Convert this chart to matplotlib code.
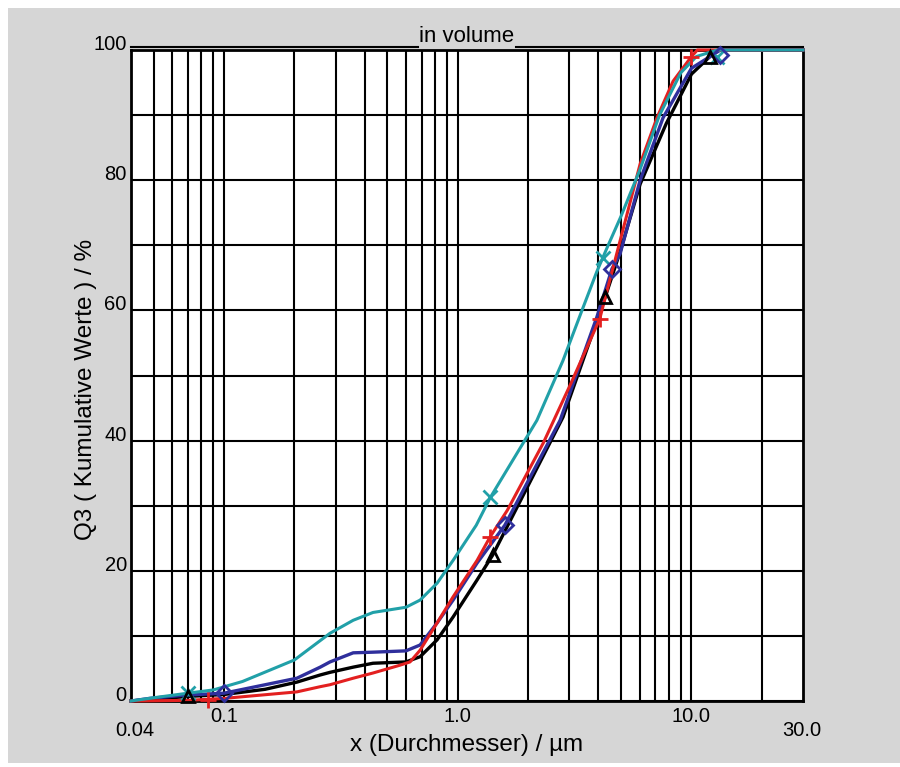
import matplotlib
matplotlib.use('Agg')
import numpy as np
from matplotlib import pyplot as plt
from matplotlib.patches import Rectangle
from matplotlib.ticker import FixedLocator, NullFormatter

plt.rcParams['font.family'] = ['Liberation Sans', 'DejaVu Sans']

# cumulative volume curves Q3
cyan_x = [0.04, 0.05, 0.07, 0.09, 0.12, 0.2, 0.284, 0.357, 0.434, 0.6, 0.69, 0.816,
          0.955, 1.2, 1.38, 2.18, 2.82, 3.4, 3.94, 4.4, 5.0, 6.0, 7.3, 9.0, 10.5, 12.9, 30.0]
cyan_y = [0.0, 0.5, 1.2, 1.7, 3.0, 6.3, 10.4, 12.4, 13.6, 14.4, 15.5, 18.1,
          21.6, 27.0, 31.3, 43.1, 52.3, 60.0, 66.0, 70.0, 74.5, 81.5, 90.0, 96.5, 99.0, 100.0, 100.0]

blue_x = [0.04, 0.048, 0.068, 0.1, 0.205, 0.258, 0.284, 0.357, 0.434, 0.6, 0.69, 0.816,
          0.955, 1.21, 1.59, 2.74, 3.94, 4.57, 4.95, 6.03, 7.56, 10.0, 13.3, 30.0]
blue_y = [0.0, 0.4, 0.9, 1.2, 3.5, 5.2, 6.0, 7.4, 7.5, 7.7, 8.6, 12.0,
          15.5, 21.2, 27.0, 43.1, 59.0, 66.4, 68.7, 80.0, 89.6, 97.2, 100.0, 100.0]

black_x = [0.04, 0.07, 0.1, 0.15, 0.205, 0.258, 0.284, 0.357, 0.434, 0.6, 0.69, 0.816,
           0.955, 1.21, 1.41, 2.82, 4.27, 4.95, 6.03, 7.8, 10.0, 12.0, 13.0, 30.0]
black_y = [0.0, 0.7, 1.0, 1.8, 2.9, 4.0, 4.4, 5.2, 5.8, 6.0, 6.8, 9.4,
           12.9, 18.6, 22.4, 43.6, 62.0, 69.0, 79.4, 88.7, 96.3, 99.0, 100.0, 100.0]

red_x = [0.04, 0.07, 0.1, 0.205, 0.258, 0.284, 0.357, 0.434, 0.566, 0.625, 0.69, 0.816,
         0.955, 1.21, 1.375, 1.63, 2.32, 3.05, 4.05, 6.03, 7.12, 8.34, 10.0, 10.6, 30.0]
red_y = [0.0, 0.1, 0.4, 1.4, 2.2, 2.5, 3.5, 4.3, 5.5, 6.0, 7.8, 12.0,
         16.0, 21.6, 25.2, 29.3, 39.6, 48.8, 58.7, 82.5, 89.6, 95.2, 99.0, 100.0, 100.0]

# symbol positions on each curve
cyan_mx, cyan_my = [0.07, 1.38, 4.17, 12.9], [1.2, 31.3, 68.0, 99.0]
blue_mx, blue_my = [0.1, 1.59, 4.57, 13.3], [1.2, 27.0, 66.4, 99.3]
black_mx, black_my = [0.07, 1.41, 4.27, 12.0], [0.8, 22.4, 62.0, 99.0]
red_mx, red_my = [0.085, 1.375, 4.05, 10.0], [0.2, 25.2, 58.7, 99.0]

major_x = [0.1, 1.0, 10.0]
major_x_labels = ['0.1', '1.0', '10.0']
minor_x = [0.05, 0.06, 0.07, 0.08, 0.09, 0.2, 0.3, 0.4, 0.5, 0.6, 0.7, 0.8, 0.9,
           2, 3, 4, 5, 6, 7, 8, 9, 20]
y_major = [0, 20, 40, 60, 80, 100]
y_minor = [10, 30, 50, 70, 90]

W, H = 900, 767
fig = plt.figure(figsize=(W / 100, H / 100), dpi=100)
fig.patch.set_facecolor('white')
fig.patches.append(Rectangle((8 / W, 4 / H), (W - 8) / W, (H - 12) / H,
                             transform=fig.transFigure, facecolor='#d6d6d6',
                             edgecolor='none', zorder=-10))
ax = fig.add_axes([131 / W, 1 - 701 / H, 672 / W, 651 / H])
ax.set_facecolor('white')
ax.set_xscale('log')
ax.set_xlim(0.04, 30)
ax.set_ylim(0, 100)

ax.xaxis.set_major_locator(FixedLocator(major_x))
ax.xaxis.set_minor_locator(FixedLocator(minor_x))
ax.xaxis.set_minor_formatter(NullFormatter())
ax.set_xticklabels(major_x_labels)
ax.set_yticks(y_major)
ax.set_yticks(y_minor, minor=True)
ax.tick_params(which='both', length=0)
ax.tick_params(axis='x', labelsize=14.5, pad=4)
ax.tick_params(axis='y', labelsize=14.5, pad=3)
for lab in ax.get_yticklabels():
    lab.set_verticalalignment('baseline')

ax.grid(which='both', color='black', linewidth=1.5)
ax.set_axisbelow(True)
for sp in ax.spines.values():
    sp.set_linewidth(2)
    sp.set_color('black')

# end labels of the x axis sit one row lower
tr = ax.get_xaxis_transform()
ax.text(0.0415, -0.045, '0.04', transform=tr, ha='center', va='center', fontsize=14.5)
ax.text(29.5, -0.046, '30.0', transform=tr, ha='center', va='center', fontsize=14.5)

ax.plot(black_x, black_y, color='black', lw=2.4, clip_on=False, zorder=3)
ax.plot(blue_x, blue_y, color='#2f2f9c', lw=2.4, clip_on=False, zorder=4)
ax.plot(red_x, red_y, color='#e32020', lw=2.2, clip_on=False, zorder=4)
ax.plot(cyan_x, cyan_y, color='#21a0a8', lw=2.2, clip_on=False, zorder=5)

ax.plot(cyan_mx, cyan_my, ls='none', marker='x', ms=10, mew=2, color='#21a0a8', clip_on=False, zorder=6)
ax.plot(blue_mx, blue_my, ls='none', marker='D', ms=8, mew=2, mfc='none', color='#2f2f9c', clip_on=False, zorder=6)
ax.plot(black_mx, black_my, ls='none', marker='^', ms=8, mew=2, mfc='none', color='black', clip_on=False, zorder=6)
ax.plot(red_mx, red_my, ls='none', marker='+', ms=12, mew=2, color='#e32020', clip_on=False, zorder=6)

# title set into a line above the frame
ax.plot([0, 0.427], [1.005, 1.005], transform=ax.transAxes, color='black', lw=1.5, clip_on=False)
ax.plot([0.573, 1], [1.005, 1.005], transform=ax.transAxes, color='black', lw=1.5, clip_on=False)
ax.text(0.5, 1.004, 'in volume', transform=ax.transAxes, ha='center', va='bottom', fontsize=16)

ax.set_xlabel('x (Durchmesser) / µm', fontsize=17.5)
ax.xaxis.set_label_coords(0.5, -0.05)
ax.set_ylabel('Q3 ( Kumulative Werte ) / %', fontsize=17.5)
ax.yaxis.set_label_coords(-0.051, 0.478)

fig.savefig('out.png', dpi=100)
